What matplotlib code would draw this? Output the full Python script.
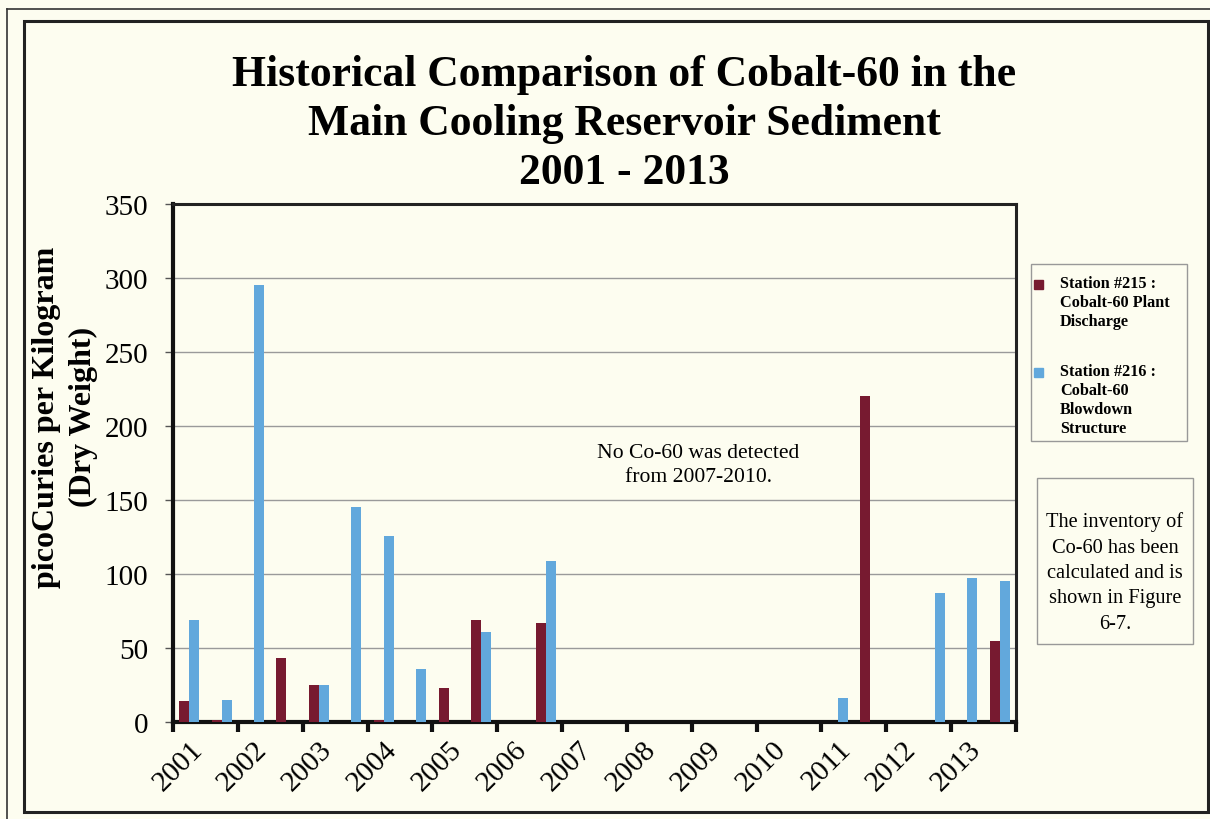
import matplotlib.pyplot as plt
from matplotlib.patches import Rectangle
import numpy as np

# sample periods (two per year), labels every second period
years = ['2001', '2002', '2003', '2004', '2005', '2006', '2007',
         '2008', '2009', '2010', '2011', '2012', '2013']
n_periods = 26

# Station #215 : Cobalt-60 Plant Discharge
st215 = [14, 1.5, 0, 43, 25, 0, 1.5, 0, 23, 69, 0, 67, 0,
         0, 0, 0, 0, 0, 0, 0, 0, 220, 0, 0, 0, 55]
# Station #216 : Cobalt-60 Blowdown Structure
st216 = [69, 15, 295, 0, 25, 145, 126, 36, 0, 61, 0, 109, 0,
         0, 0, 0, 0, 0, 0, 0, 16, 0, 0, 87, 97, 95]

yticks = [0, 50, 100, 150, 200, 250, 300, 350]

RED = '#771a30'
BLUE = '#62a8dc'
BG = '#fdfdf0'
W, H = 1210, 820

plt.rcParams['font.family'] = ['Liberation Serif', 'DejaVu Serif']


def fx(x):
    return x / W


def fy(y):
    return 1 - y / H


fig = plt.figure(figsize=(W / 100, H / 100), dpi=100, facecolor=BG)

# page borders
fig.add_artist(plt.Line2D([fx(7), fx(7)], [fy(10), 0], color='#333333', lw=1.2))
fig.add_artist(plt.Line2D([fx(7), 1], [fy(10), fy(10)], color='#333333', lw=1.2))
fig.add_artist(Rectangle((fx(24), fy(813)), fx(1208) - fx(24), fy(22) - fy(813),
                         fill=False, edgecolor='#222222', lw=2.2,
                         transform=fig.transFigure))

ax = fig.add_axes([fx(173), fy(723), fx(1016) - fx(173), fy(205) - fy(723)])
ax.set_facecolor(BG)

x = np.arange(n_periods)
bw = 0.31
ax.bar(x - bw / 2, st215, bw, color=RED, zorder=3)
ax.bar(x + bw / 2, st216, bw, color=BLUE, zorder=3)

ax.set_xlim(-0.5, n_periods - 0.5)
ax.set_ylim(0, 350)
ax.set_yticks(yticks)
ax.tick_params(axis='y', labelsize=21, length=6, width=1, color='#555555', pad=12)
ax.grid(axis='y', color='#9a9a9a', lw=1, zorder=0)

# ticks at period-pair boundaries, year labels under first period of each pair
ax.set_xticks(np.arange(-0.5, n_periods, 2))
ax.set_xticklabels([])
ax.tick_params(axis='x', which='major', length=7, width=3, color='#111111')
ax.set_xticks(np.arange(0, n_periods, 2), minor=True)
ax.set_xticklabels(years, minor=True, rotation=45, ha='right', va='top',
                   rotation_mode='anchor', fontsize=21)
ax.tick_params(axis='x', which='minor', length=0, pad=10)

for side in ['top', 'right']:
    ax.spines[side].set_linewidth(2.2)
    ax.spines[side].set_color('#222222')
for side in ['left', 'bottom']:
    ax.spines[side].set_linewidth(3)
    ax.spines[side].set_color('#111111')

fig.text(fx(624), fy(124),
         'Historical Comparison of Cobalt-60 in the\nMain Cooling Reservoir Sediment\n2001 - 2013',
         ha='center', va='center', fontsize=31.4, fontweight='bold', linespacing=1.3)

fig.text(fx(65), fy(417), 'picoCuries per Kilogram\n(Dry Weight)', rotation=90,
         ha='center', va='center', fontsize=23, fontweight='bold', linespacing=1.4)

ax.text(15.7, 174, 'No Co-60 was detected\nfrom 2007-2010.', ha='center', va='center',
        fontsize=15.6, linespacing=1.33, zorder=4)

# legend box
fig.add_artist(Rectangle((fx(1031), fy(442)), fx(1187) - fx(1031), fy(265) - fy(442),
                         fill=False, edgecolor='#999999', lw=1, transform=fig.transFigure))
for color, label, ytop in [(RED, 'Station #215 :\nCobalt-60 Plant\nDischarge', 286),
                           (BLUE, 'Station #216 :\nCobalt-60\nBlowdown\nStructure', 374)]:
    fig.add_artist(Rectangle((fx(1034), fy(ytop + 4)), fx(9), 9 / H, color=color,
                             transform=fig.transFigure))
    fig.text(fx(1060), fy(ytop - 10), label, ha='left', va='top', fontsize=11.7,
             fontweight='bold', linespacing=1.25)

# note box
fig.add_artist(Rectangle((fx(1037), fy(645)), fx(1193) - fx(1037), fy(479) - fy(645),
                         fill=False, edgecolor='#999999', lw=1, transform=fig.transFigure))
fig.text(fx(1115), fy(573),
         'The inventory of\nCo-60 has been\ncalculated and is\nshown in Figure\n6-7.',
         ha='center', va='center', fontsize=14.7, linespacing=1.45)

fig.savefig('out.png', dpi=100, facecolor=BG)
